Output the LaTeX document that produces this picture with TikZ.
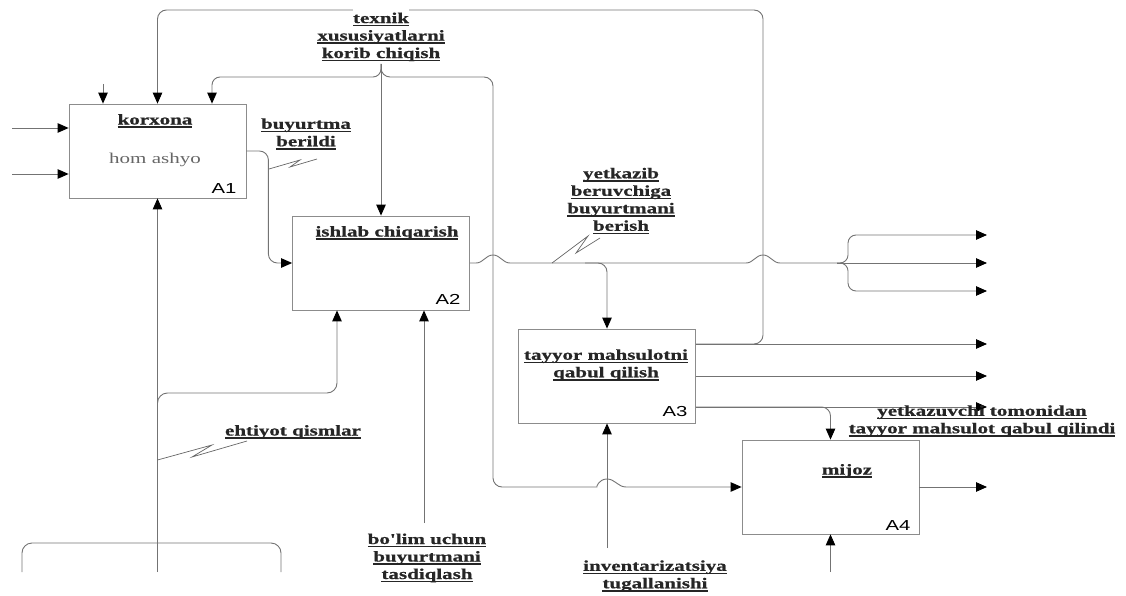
\documentclass[tikz,border=0pt]{standalone}
\usepackage{fontspec}
\usepackage{tikz}
\usetikzlibrary{arrows.meta,positioning}
\newfontfamily\lblfont[FakeStretch=1.4,BoldFeatures={FakeBold=0.8}]{Liberation Serif}
\newfontfamily\numfont[FakeStretch=1.4]{Liberation Sans}
\newcommand\ulx[1]{\setbox0\hbox{#1}\rlap{\rule[-3.4pt]{\wd0}{1.5pt}}\box0}
\newcommand\wbg[1]{\setbox2\hbox{#1}\rlap{\color{white}\rule[\dimexpr\ht2-1pt\relax]{\wd2}{5pt}}\box2}

\begin{document}
\begin{tikzpicture}[x=1pt,y=-1pt,
    box/.style={draw=black!45, line width=0.8pt, minimum width=177pt, minimum height=94pt, inner sep=0pt},
    lbl/.style={font=\lblfont\bfseries\fontsize{15}{17.5}\selectfont, align=center, inner sep=0pt, text=black!85},
    num/.style={font=\numfont\fontsize{14.5}{16}\selectfont, inner sep=0pt},
    line/.style={draw=black!55, line width=0.9pt},
    arr/.style={line, -{Triangle[length=11pt,width=9.5pt,color=black]}},
    zig/.style={draw=black!60, line width=0.7pt}]
\useasboundingbox (0,0) rectangle (1126,596);

% blocks
\node[box] (a1) at (157.5,151) {};
\node[box] (a2) at (381,263) {};
\node[box] (a3) at (607,376) {};
\node[box] (a4) at (830.5,487) {};

% texts in the blocks
\node[lbl] (t1) at (155,121) {\ulx{korxona}};
\node[font=\lblfont\fontsize{15}{17.5}\selectfont, text=black!60, inner sep=0pt] (t1b) at (155,160) {hom ashyo};
\node[num] (n1) at (224,189) {A1};
\node[lbl] (t2) at (387,233) {\ulx{ishlab chiqarish}};
\node[num] (n2) at (448,299) {A2};
\node[lbl] (t3) at (606,365) {\ulx{tayyor mahsulotni}\\\ulx{qabul qilish}};
\node[num] (n3) at (675,412) {A3};
\node[lbl] (t4) at (847,471) {\ulx{mijoz}};
\node[num] (n4) at (898,526) {A4};

% free ends and bends
\coordinate (ex) at (987,0);
\coordinate (top1) at (103,84);
\coordinate (in1) at (12,128);
\coordinate (in2) at (12,174);
\coordinate (tx) at (381,64);
\coordinate (k1) at (212,77);
\coordinate (k2) at (493,77);
\coordinate (k3) at (763,10);
\coordinate (k4) at (585,263);
\coordinate (k5) at (848,235);
\coordinate (k6) at (848,291);
\coordinate (k7) at (337,393);
\coordinate (k8) at (157.5,543);
\coordinate (sp) at (837,263);
\coordinate (j1) at (157.5,414);
\coordinate (b1) at (22,572);
\coordinate (b2) at (157.5,572);
\coordinate (b3) at (281,572);
\coordinate (bot2) at (424,523);
\coordinate (bot3) at (607,548);
\coordinate (bot4) at (830.5,572);
\coordinate (o31) at ([yshift=32pt]a3.east);
\coordinate (o33) at ([yshift=-31pt]a3.east);

% inputs of A1
\draw[arr] (top1) -- (top1 |- a1.north);
\draw[arr] (in1) -- (in1 -| a1.west);
\draw[arr] (in2) -- (in2 -| a1.west);
\draw[arr] (b2) -- (a1.south);
\draw[line, rounded corners=10pt] (b1) |- (k8);
\draw[line, rounded corners=10pt] (b3) |- (k8);

% control from above
\draw[arr, rounded corners=8pt] (tx) |- (k1) -- (k1 |- a1.north);
\draw[arr] (tx) -- (a2.north);
\draw[arr, rounded corners=9pt] (tx) |- (k2) |- (588,487) [sharp corners] to[out=0,in=180] (607,479) to[out=0,in=180] (626,487) -- (a4.west);

% A1 to A2
\draw[arr, rounded corners=9pt] (a1.east) -- ++(22,0) |- (a2.west);
\draw[arr, rounded corners=10pt] (j1) |- (k7) -- (k7 |- a2.south);
\draw[arr] (bot2) -- (bot2 |- a2.south);

% A2 outputs
\draw[line] (a2.east) -- (476,263) to[out=0,in=180] (493,255) to[out=0,in=180] (510,263) -- (746,263) to[out=0,in=180] (763,255) to[out=0,in=180] (780,263) -- (sp);
\draw[arr, rounded corners=9pt] (k4) -| (a3.north);
\draw[arr, rounded corners=8pt] (sp) -| (k5) -- (k5 -| ex);
\draw[arr] (sp) -- (sp -| ex);
\draw[arr, rounded corners=8pt] (sp) -| (k6) -- (k6 -| ex);

% A3 outputs
\draw[arr, rounded corners=9pt] (o31) -| (k3) -| (a1.north);
\draw[arr] (o31) -- (o31 -| ex);
\draw[arr] (a3.east) -- (a3.east -| ex);
\draw[arr] (o33) -- (o33 -| ex);
\draw[arr, rounded corners=9pt] (o33) -| (a4.north);
\draw[arr] (bot3) -- (a3.south);

% A4
\draw[arr] (a4.east) -- (a4.east -| ex);
\draw[arr] (bot4) -- (a4.south);

% squiggles
\draw[zig] (269,169) -- (300,160) -- (290,167) -- (317,159);
\draw[zig] (552,263) -- (588,236) -- (576,253) -- (600,238);
\draw[zig] (157.5,460) -- (212,445) -- (192,457) -- (247,441);

% labels
\node[lbl] (l1) at (381,35) {\wbg{\ulx{texnik}}\\\ulx{xususiyatlarni}\\\ulx{korib chiqish}};
\node[lbl] (l2) at (306,134) {\ulx{buyurtma}\\\ulx{berildi}};
\node[lbl] (l3) at (621,201) {\ulx{yetkazib}\\\ulx{beruvchiga}\\\ulx{buyurtmani}\\\ulx{berish}};
\node[lbl] (l4) at (293,432) {\ulx{ehtiyot qismlar}};
\node[lbl] (l5) at (427,558) {\ulx{bo'lim uchun}\\\ulx{buyurtmani}\\\ulx{tasdiqlash}};
\node[lbl] (l6) at (655,576) {\ulx{inventarizatsiya}\\\ulx{tugallanishi}};
\node[lbl] (l7) at (982,421) {\ulx{yetkazuvchi tomonidan}\\\ulx{tayyor mahsulot qabul qilindi}};
\end{tikzpicture}
\end{document}
